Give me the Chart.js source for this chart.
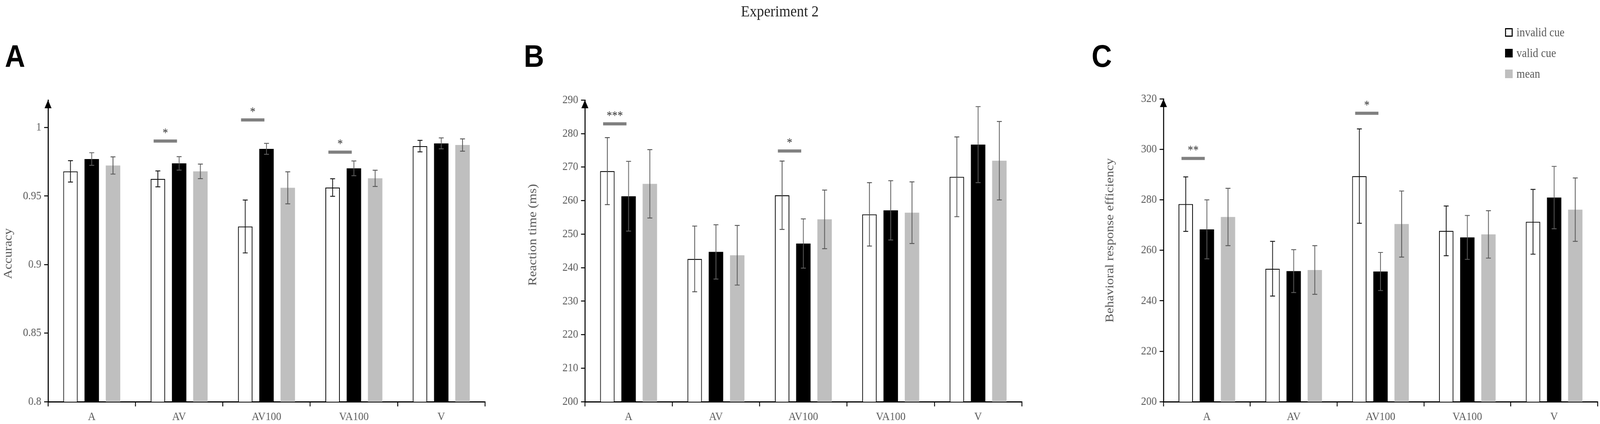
<!DOCTYPE html>
<html>
<head>
<meta charset="utf-8">
<script src="https://cdn.jsdelivr.net/npm/chart.js@4.4.1/dist/chart.umd.min.js"></script>
<style>
  html, body { margin: 0; padding: 0; background: #fff; overflow: hidden; }
  body { font-family: "Liberation Serif", "Times New Roman", serif; }
  #stage { position: absolute; left: 0; top: 0; width: 4563px; height: 1085px; transform-origin: 0 0; }
  canvas { position: absolute; top: 0; }
  .letter { position: absolute; top: 104px; font-family: "Liberation Sans", Arial, sans-serif; font-weight: bold; font-size: 80px; line-height: 80px; color: #000; }
  #title { position: absolute; left: 1924px; top: 8px; width: 600px; text-align: center; font-size: 41px; line-height: 41px; color: #262626; }
  #legend { position: absolute; left: 4292px; top: 72px; }
  #legend .row { position: absolute; left: 0; height: 22px; width: 260px; }
  #legend .box { position: absolute; left: 0; top: 0; width: 22px; height: 22px; box-sizing: border-box; }
  #legend .txt { position: absolute; left: 33px; top: -5px; font-size: 31px; line-height: 31px; color: #595959; white-space: nowrap; }
</style>
</head>
<body>
<div id="stage">
<div id="title">Experiment 2</div>
<div class="letter" style="left:14px">A</div>
<div class="letter" style="left:1494px">B</div>
<div class="letter" style="left:3113px">C</div>
<canvas id="chartA" width="1400" height="1085" style="left:0px"></canvas>
<canvas id="chartB" width="1445" height="1085" style="left:1480px"></canvas>
<canvas id="chartC" width="1463" height="1085" style="left:3100px"></canvas>
<div id="legend"></div>
</div>

<script>
/* Experiment 2: drei Balkendiagramme (Accuracy, Reaktionszeit, Effizienz)
   je Bedingung invalid cue / valid cue / mean, mit Fehlerbalken und Signifikanzmarken */

var categories = ['A', 'AV', 'AV100', 'VA100', 'V'];
var seriesNames = ['invalid cue', 'valid cue', 'mean'];

// A: Accuracy
var accInvalid    = [0.968, 0.9625, 0.9278, 0.9562, 0.9864];
var accInvalidErr = [0.0078, 0.0058, 0.0193, 0.0064, 0.0042];
var accValid      = [0.977, 0.9738, 0.9844, 0.9702, 0.9884];
var accValidErr   = [0.0046, 0.0049, 0.004, 0.0054, 0.004];
var accMean       = [0.9723, 0.968, 0.956, 0.9629, 0.9872];
var accMeanErr    = [0.0063, 0.0053, 0.0117, 0.0059, 0.0045];
var accTicks      = { min: 0.8, max: 1.02, step: 0.05 };
var accSigCats    = ['AV', 'AV100', 'VA100'];
var accSigY       = [0.9901, 1.0055, 0.982];
var accSigText    = ['*', '*', '*'];

// B: Reaction time (ms)
var rtInvalid    = [268.8, 242.6, 261.6, 255.9, 267.1];
var rtInvalidErr = [10.0, 9.8, 10.2, 9.45, 11.9];
var rtValid      = [261.3, 244.7, 247.2, 257.1, 276.7];
var rtValidErr   = [10.4, 8.1, 7.35, 8.85, 11.35];
var rtMean       = [265.0, 243.7, 254.4, 256.4, 271.9];
var rtMeanErr    = [10.2, 8.9, 8.75, 9.2, 11.7];
var rtTicks      = { min: 200, max: 290, step: 10 };
var rtSigCats    = ['A', 'AV100'];
var rtSigY       = [282.9, 274.8];
var rtSigText    = ['***', '*'];

// C: Behavioral response efficiency
var breInvalid    = [278.3, 252.7, 289.4, 267.7, 271.3];
var breInvalidErr = [10.8, 10.85, 18.7, 9.85, 12.85];
var breValid      = [268.3, 251.75, 251.6, 265.1, 280.9];
var breValidErr   = [11.7, 8.5, 7.55, 8.7, 12.35];
var breMean       = [273.2, 252.2, 270.4, 266.3, 276.1];
var breMeanErr    = [11.35, 9.65, 13.1, 9.4, 12.55];
var breTicks      = { min: 200, max: 320, step: 20 };
var breSigCats    = ['A', 'AV100'];
var breSigY       = [296.4, 314.3];
var breSigText    = ['**', '*'];

(function () {
  'use strict';

  var SERIF = '"Liberation Serif", "Times New Roman", serif';
  var TEXT_GRAY = '#595959';

  // Bühne auf das Fenster skalieren (Layout ist in 4563x1085 gerechnet)
  var stage = document.getElementById('stage');
  var sx = window.innerWidth / 4563, sy = window.innerHeight / 1085;
  stage.style.transform = 'scale(' + sx + ',' + sy + ')';

  // Fehlerbalken (Mittelwert +/- Fehler) über den Balken
  var errorBars = {
    id: 'errorBars',
    afterDatasetsDraw: function (chart) {
      var ctx = chart.ctx;
      var ys = chart.scales.y;
      chart.data.datasets.forEach(function (ds, i) {
        var meta = chart.getDatasetMeta(i);
        if (meta.hidden || !ds.err) return;
        ctx.save();
        ctx.strokeStyle = ds.errColor;
        ctx.lineWidth = 2.2;
        meta.data.forEach(function (bar, j) {
          var top = ys.getPixelForValue(ds.data[j] + ds.err[j]);
          var bot = ys.getPixelForValue(ds.data[j] - ds.err[j]);
          ctx.beginPath();
          ctx.moveTo(bar.x, top); ctx.lineTo(bar.x, bot);
          ctx.moveTo(bar.x - 7, top); ctx.lineTo(bar.x + 7, top);
          ctx.moveTo(bar.x - 7, bot); ctx.lineTo(bar.x + 7, bot);
          ctx.stroke();
        });
        ctx.restore();
      });
    }
  };

  // Signifikanz: grauer Balken zwischen invalid/valid plus Sterne
  var sigMarks = {
    id: 'sigMarks',
    afterDatasetsDraw: function (chart, args, opts) {
      if (!opts || !opts.cats) return;
      var ctx = chart.ctx;
      var ys = chart.scales.y;
      var white = chart.getDatasetMeta(0).data;
      var black = chart.getDatasetMeta(1).data;
      ctx.save();
      opts.cats.forEach(function (c, k) {
        var idx = chart.data.labels.indexOf(c);
        if (idx < 0) return;
        var x0 = white[idx].x - 12;
        var x1 = black[idx].x - 6;
        var y = ys.getPixelForValue(opts.ys[k]);
        ctx.fillStyle = '#808080';
        ctx.fillRect(x0, y - 4, x1 - x0, 8);
        ctx.font = '31px ' + SERIF;
        ctx.fillStyle = '#333';
        ctx.textAlign = 'center';
        ctx.textBaseline = 'alphabetic';
        var m = ctx.measureText(opts.texts[k]);
        var cy = y - 26;
        ctx.fillText(opts.texts[k], (x0 + x1) / 2, cy + (m.actualBoundingBoxAscent - m.actualBoundingBoxDescent) / 2);
      });
      ctx.restore();
    }
  };

  // y-Achsentitel, gedreht; Mitte frei wählbar (im Original nicht zentriert)
  var yTitle = {
    id: 'yTitle',
    afterDraw: function (chart, args, o) {
      if (!o || !o.text) return;
      var ctx = chart.ctx;
      ctx.save();
      ctx.translate(o.x, o.y);
      ctx.rotate(-Math.PI / 2);
      ctx.font = '34px ' + SERIF;
      ctx.fillStyle = TEXT_GRAY;
      ctx.textAlign = 'center';
      ctx.textBaseline = 'middle';
      ctx.fillText(o.text, 0, 0);
      ctx.restore();
    }
  };

  // Pfeilspitze oben an der y-Achse
  var axisArrow = {
    id: 'axisArrow',
    afterDraw: function (chart) {
      var a = chart.chartArea;
      var ctx = chart.ctx;
      ctx.save();
      ctx.fillStyle = '#000';
      ctx.beginPath();
      ctx.moveTo(a.left, a.top);
      ctx.lineTo(a.left - 10, a.top + 21);
      ctx.lineTo(a.left + 10, a.top + 21);
      ctx.closePath();
      ctx.fill();
      ctx.restore();
    }
  };

  function barSet(label, data, err, fill, border, errColor) {
    return {
      label: label,
      data: data,
      err: err,
      errColor: errColor,
      backgroundColor: fill,
      borderColor: border,
      borderWidth: border ? 2.3 : 0,
      barPercentage: 0.68,
      categoryPercentage: 0.73
    };
  }

  function makeChart(id, p) {
    var el = document.getElementById(id);
    return new Chart(el.getContext('2d'), {
      type: 'bar',
      data: {
        labels: categories,
        datasets: [
          barSet(seriesNames[0], p.invalid, p.invalidErr, '#ffffff', '#000000', p.whiteErr),
          barSet(seriesNames[1], p.valid, p.validErr, '#000000', null, '#5e5e5e'),
          barSet(seriesNames[2], p.mean, p.meanErr, '#bfbfbf', null, '#555555')
        ]
      },
      plugins: [errorBars, sigMarks, yTitle, axisArrow],
      options: {
        responsive: false,
        animation: false,
        devicePixelRatio: 1,
        layout: { padding: { left: 0, right: p.padRight, top: p.padTop, bottom: 0 } },
        plugins: {
          legend: { display: false },
          tooltip: { enabled: false },
          sigMarks: { cats: p.sigCats, ys: p.sigY, texts: p.sigText },
          yTitle: { text: p.yTitle, x: p.titleX, y: p.titleY }
        },
        scales: {
          x: {
            offset: true,
            grid: { display: true, offset: true, drawOnChartArea: false, drawTicks: true, tickLength: 12, lineWidth: 2.5, color: '#000' },
            border: { display: true, color: '#000', width: 3 },
            ticks: { color: TEXT_GRAY, font: { family: SERIF, size: 30 }, padding: 9, maxRotation: 0, autoSkip: false },
            afterFit: function (scale) { scale.height = 57; }
          },
          y: {
            min: p.ticks.min,
            max: p.ticks.max,
            bounds: 'data',
            grid: { display: true, drawOnChartArea: false, drawTicks: true, tickLength: 11, lineWidth: 2.5, color: '#000' },
            border: { display: true, color: '#000', width: 3 },
            ticks: {
              stepSize: p.ticks.step,
              color: TEXT_GRAY,
              font: { family: SERIF, size: 30 },
              padding: 8,
              callback: function (v) { return String(Number(v.toFixed(2))); }
            },
            // nur ganze Schritte beschriften (keine Marke am Achsenende)
            afterBuildTicks: function (scale) {
              var st = p.ticks.step;
              scale.ticks = scale.ticks.filter(function (t) {
                var k = (t.value - p.ticks.min) / st;
                return Math.abs(k - Math.round(k)) < 1e-6;
              });
            },
            title: { display: false },
            afterFit: function (scale) { scale.width = p.axisWidth; }
          }
        }
      }
    });
  }

  makeChart('chartA', {
    invalid: accInvalid, invalidErr: accInvalidErr, valid: accValid, validErr: accValidErr,
    mean: accMean, meanErr: accMeanErr, ticks: accTicks, whiteErr: '#111111',
    sigCats: accSigCats, sigY: accSigY, sigText: accSigText,
    yTitle: 'Accuracy', titleX: 24, titleY: 649,
    axisWidth: 137, padRight: 17, padTop: 256
  });

  makeChart('chartB', {
    invalid: rtInvalid, invalidErr: rtInvalidErr, valid: rtValid, validErr: rtValidErr,
    mean: rtMean, meanErr: rtMeanErr, ticks: rtTicks, whiteErr: '#4d4d4d',
    sigCats: rtSigCats, sigY: rtSigY, sigText: rtSigText,
    yTitle: 'Reaction time (ms)', titleX: 40, titleY: 601,
    axisWidth: 188, padRight: 11, padTop: 256
  });

  var chartC = makeChart('chartC', {
    invalid: breInvalid, invalidErr: breInvalidErr, valid: breValid, validErr: breValidErr,
    mean: breMean, meanErr: breMeanErr, ticks: breTicks, whiteErr: '#111111',
    sigCats: breSigCats, sigY: breSigY, sigText: breSigText,
    yTitle: 'Behavioral response efficiency', titleX: 66, titleY: 615,
    axisWidth: 218, padRight: 7, padTop: 253
  });

  // HTML-Legende aus den Labels von Chart C
  var items = chartC.options.plugins.legend.labels.generateLabels(chartC);
  var legend = document.getElementById('legend');
  items.forEach(function (it, i) {
    var row = document.createElement('div');
    row.className = 'row';
    row.style.top = (i * 53) + 'px';
    var box = document.createElement('span');
    box.className = 'box';
    box.style.background = it.fillStyle;
    if (it.lineWidth) box.style.border = '3px solid ' + it.strokeStyle;
    var txt = document.createElement('span');
    txt.className = 'txt';
    txt.textContent = it.text;
    row.appendChild(box);
    row.appendChild(txt);
    legend.appendChild(row);
  });
})();
</script>
</body>
</html>
